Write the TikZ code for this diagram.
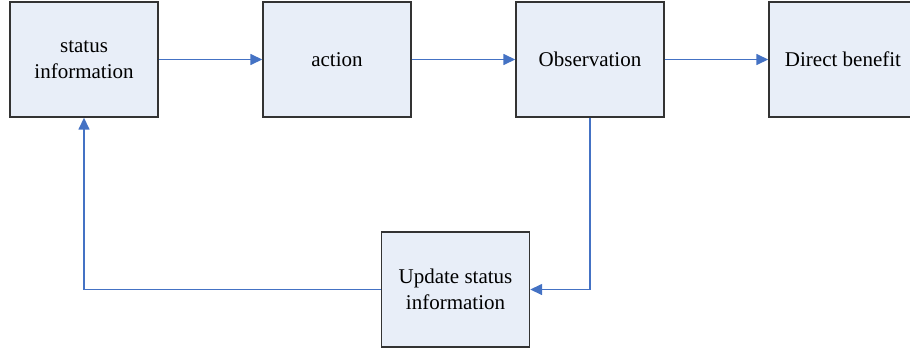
\documentclass[tikz,border=0pt]{standalone}
\usepackage{fontspec}
\setmainfont{Liberation Serif}
\usetikzlibrary{arrows.meta}
\definecolor{kasten}{HTML}{E8EEF8}
\definecolor{rand}{HTML}{333333}
\definecolor{pfeilblau}{HTML}{4472C4}
\begin{document}
\begin{tikzpicture}[
      x=1pt, y=-1pt,
      font=\fontsize{21}{26}\selectfont,
      kastenstil/.style={draw=rand, fill=kasten, line width=1.4pt, minimum width=148pt, minimum height=115pt, align=center, inner sep=2pt},
      pfeil/.style={-{Triangle[length=12pt, width=11pt]}, draw=pfeilblau, line width=1.5pt}
    ]
      \useasboundingbox (0,0) rectangle (910,353);
      \node[kastenstil] (status) at (84,59.5) {status\\information};
      \node[kastenstil] (aktion) at (337,59.5) {action};
      \node[kastenstil] (beob) at (590,59.5) {Observation};
      \node[kastenstil] (nutzen) at (843,59.5) {Direct benefit};
      \node[kastenstil] (update) at (455.5,289.5) {Update status\\information};
      \draw[pfeil] (status) -- (aktion);
      \draw[pfeil] (aktion) -- (beob);
      \draw[pfeil] (beob) -- (nutzen);
      \draw[pfeil] (beob.south) |- (update.east);
      \draw[pfeil] (update.west) -| (status.south);
    \end{tikzpicture}
\end{document}
